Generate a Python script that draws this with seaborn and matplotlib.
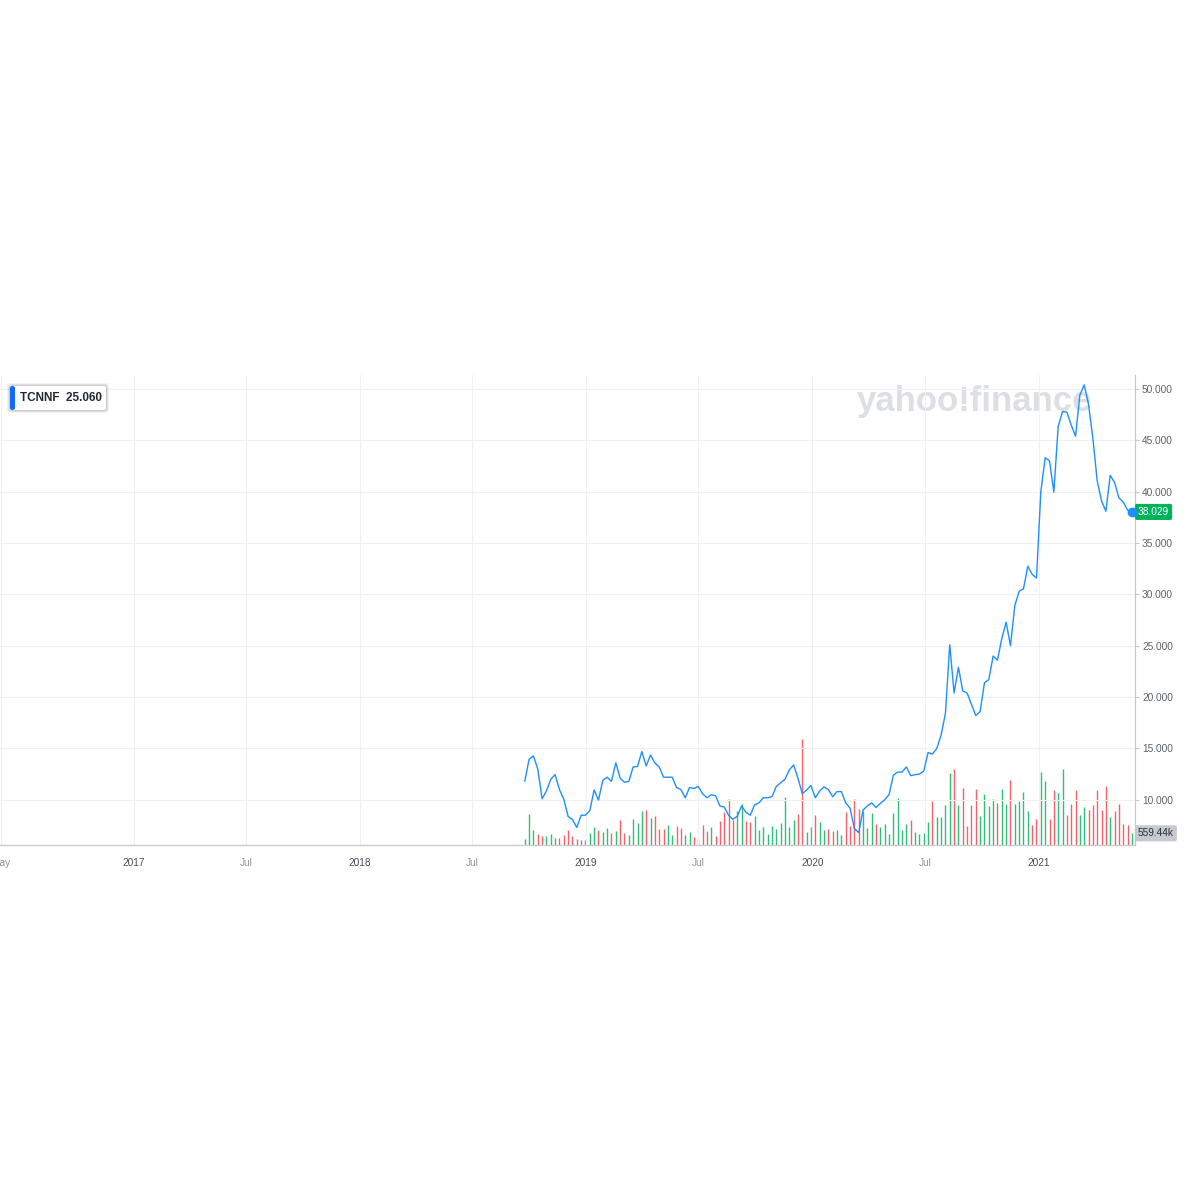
"""
TCNNF weekly price with volume, drawn in the style of a Yahoo Finance chart.
"""

import matplotlib.pyplot as plt
import matplotlib.transforms as mtransforms
from matplotlib.patches import FancyBboxPatch
import pandas as pd
import seaborn as sns


# Weekly closes (first week 2018-09-24)
start_week = "2018-09-24"
prices = [
    11.8, 13.95, 14.27, 13.0, 10.1, 10.86, 12.0, 12.45, 11.0, 10.06,
    8.38, 8.09, 7.3, 8.5, 8.5, 8.95, 10.96, 9.97, 11.9, 12.2,
    11.8, 13.6, 12.1, 11.7, 11.8, 13.2, 13.25, 14.7, 13.3, 14.36,
    13.6, 13.2, 12.2, 12.2, 12.2, 11.2, 11.0, 10.2, 11.2, 11.1,
    11.3, 10.6, 10.2, 10.5, 10.4, 9.4, 9.3, 8.5, 8.1, 8.4,
    9.4, 8.8, 8.5, 9.5, 9.7, 10.2, 10.2, 10.3, 11.3, 11.65,
    12.0, 12.9, 13.4, 12.1, 10.6, 10.95, 11.4, 10.2, 10.86, 11.25,
    11.0, 10.3, 10.8, 10.8, 9.7, 9.2, 7.2, 6.8, 9.0, 9.4,
    9.7, 9.25, 9.65, 10.0, 10.5, 12.4, 12.7, 12.7, 13.2, 12.35,
    12.45, 12.5, 12.8, 14.6, 14.45, 15.0, 16.3, 18.4, 25.1, 20.4,
    22.9, 20.6, 20.4, 19.3, 18.2, 18.6, 21.4, 21.7, 24.0, 23.6,
    25.7, 27.3, 25.0, 28.9, 30.3, 30.55, 32.75, 31.95, 31.6, 40.0,
    43.3, 43.0, 39.95, 46.35, 47.8, 47.75, 46.5, 45.4, 49.4, 50.4,
    48.5, 45.2, 41.05, 39.1, 38.1, 41.6, 40.9, 39.4, 39.0, 38.2,
    38.029,
]

# Weekly volume in thousands, and up (g) / down (r) week
volume = [
    287, 1481, 717, 510, 430, 430, 510, 350, 350, 478,
    717, 430, 287, 239, 239, 558, 844, 717, 605, 796,
    558, 669, 1195, 558, 478, 1243, 1067, 1625, 1673, 1274,
    1386, 765, 749, 956, 478, 908, 828, 478, 605, 366,
    271, 956, 685, 860, 430, 1147, 1593, 2198, 1195, 1625,
    1959, 1147, 1083, 1386, 717, 876, 526, 908, 781, 1051,
    2278, 876, 1195, 1481, 5066, 637, 876, 1434, 1099, 717,
    765, 685, 733, 478, 1593, 908, 2198, 1720, 1625, 828,
    1545, 988, 876, 988, 526, 1513, 2246, 717, 1004, 1195,
    637, 526, 573, 1099, 2103, 1338, 1338, 1912, 3457, 3632,
    1912, 2724, 908, 1912, 2676, 1386, 2437, 1864, 2198, 2023,
    2676, 1959, 3106, 1959, 2103, 2533, 1641, 956, 1243, 3505,
    3059, 1243, 2628, 2501, 3632, 1434, 1959, 2628, 1434, 1800,
    1673, 1912, 2628, 1673, 2820, 1354, 1625, 1959, 1004, 956,
    559.44,
]
direction = list(
    "gggrrgggrr" "rrrgrggrgg" "rgrrggggrg" "rrrggrrggr" "grrgrrrrrg"
    "grrggggggg" "gggrrggrgg" "rrg" "grrrrgg" "grgggggggr"
    "ggggrggggr" "grrrrggggr" "ggrggggrrg" "grrggrrrgg" "rrrrrgrrrr" "g"
)

tick_dates = ["2016-05-31", "2017-01-01", "2017-07-01", "2018-01-01", "2018-07-01",
              "2019-01-01", "2019-07-01", "2020-01-01", "2020-07-01", "2021-01-01"]
tick_labels = ["May", "2017", "Jul", "2018", "Jul", "2019", "Jul", "2020", "Jul", "2021"]
price_ticks = [10, 15, 20, 25, 30, 35, 40, 45, 50]

symbol = "TCNNF"
symbol_price = "25.060"
last_volume_label = "559.44k"

BLUE = "#1e8fff"
GREEN = "#2fbf78"
RED = "#f6626a"


def main():
    sns.set_theme(style="white")
    plt.rcParams["font.family"] = ["Liberation Sans", "DejaVu Sans"]

    dates = pd.date_range(start_week, periods=len(prices), freq="7D")
    df = pd.DataFrame({"date": dates, "close": prices, "volume": volume,
                       "dir": direction})

    W, H = 1190, 1190
    fig = plt.figure(figsize=(W / 100, H / 100), dpi=100)
    fig.patch.set_facecolor("white")
    left, right, top, bottom = 0, 1135, 375, 845
    rect = [left / W, 1 - bottom / H, (right - left) / W, (bottom - top) / H]
    ax = fig.add_axes(rect)
    axv = ax.twinx()

    # Volume bars underneath the price line
    colors = [GREEN if d == "g" else RED for d in df["dir"]]
    axv.vlines(df["date"], 0, df["volume"], colors=colors, linewidth=1.0)
    axv.set_ylim(0, 22470)
    axv.set_yticks([])
    for s in axv.spines.values():
        s.set_visible(False)

    ax.set_zorder(2)
    axv.set_zorder(1)
    ax.patch.set_visible(False)

    # Price line
    sns.lineplot(data=df, x="date", y="close", ax=ax, color=BLUE, linewidth=1.0)
    ax.scatter([df["date"].iloc[-1]], [df["close"].iloc[-1]], s=36, color=BLUE,
               zorder=5, clip_on=False)

    ax.set_xlim(pd.Timestamp("2016-05-30"), pd.Timestamp("2021-06-05"))
    ax.set_ylim(5.6, 51.36)

    ax.set_xticks(pd.to_datetime(tick_dates))
    ax.set_xticklabels(tick_labels)
    for lab, txt in zip(ax.get_xticklabels(), tick_labels):
        lab.set_color("#8d949b" if txt in ("May", "Jul") else "#464e56")
    ax.tick_params(axis="x", length=4, width=0.8, color="#c8c8c8",
                   labelsize=7.3, pad=5)

    ax.yaxis.tick_right()
    ax.set_yticks(price_ticks)
    ax.set_yticklabels([f"{v:.3f}" for v in price_ticks])
    ax.tick_params(axis="y", length=3, width=0.8, color="#c8c8c8",
                   labelsize=7.3, labelcolor="#5b636a", pad=2)
    ax.set_xlabel("")
    ax.set_ylabel("")

    ax.grid(True, color="#f0f0f0", linewidth=0.8)
    ax.set_axisbelow(True)
    for name, s in ax.spines.items():
        s.set_visible(name in ("right", "bottom"))
        s.set_color("#c8c8c8")
        s.set_linewidth(0.9)

    # Last price / volume labels on the right axis
    trans = mtransforms.blended_transform_factory(ax.transAxes, ax.transData)
    ax.annotate(f"{prices[-1]:.3f}", xy=(1.0, prices[-1]), xycoords=trans,
                xytext=(3, 0), textcoords="offset pixels", ha="left", va="center",
                fontsize=7.3, color="white", annotation_clip=False,
                bbox=dict(boxstyle="round,pad=0.3,rounding_size=0.2",
                          fc="#00b15d", ec="none"))
    transv = mtransforms.blended_transform_factory(axv.transAxes, axv.transData)
    axv.annotate(last_volume_label, xy=(1.0, volume[-1]), xycoords=transv,
                 xytext=(3, 0), textcoords="offset pixels", ha="left", va="center",
                 fontsize=7.3, color="#2b3137", annotation_clip=False,
                 bbox=dict(boxstyle="round,pad=0.3,rounding_size=0.2",
                           fc="#c6cad0", ec="none"))

    # Watermark
    fig.text(975 / W, 1 - 401 / H, "yahoo!finance", ha="center", va="center",
             fontsize=25, fontweight="heavy", color="#dcdfe4", zorder=0.5)

    # Symbol tag at top left
    for i, a in enumerate([0.05, 0.07, 0.09]):
        g = 3 - i
        fig.patches.append(FancyBboxPatch(
            ((10 - g) / W, 1 - (410 + g) / H), (96 + 2 * g) / W, (24 + 2 * g) / H,
            boxstyle="round,pad=0,rounding_size=0.003", transform=fig.transFigure,
            fc="#000000", ec="none", alpha=a, zorder=3))
    fig.patches.append(FancyBboxPatch(
        (10 / W, 1 - 410 / H), 96 / W, 24 / H,
        boxstyle="round,pad=0,rounding_size=0.002", transform=fig.transFigure,
        fc="white", ec="none", zorder=4))
    fig.patches.append(FancyBboxPatch(
        (10 / W, 1 - 410 / H), 5 / W, 24 / H,
        boxstyle="round,pad=0,rounding_size=0.002", transform=fig.transFigure,
        fc="#0f69ff", ec="none", zorder=5))
    fig.text(20 / W, 1 - 398.5 / H, f"{symbol}  {symbol_price}", ha="left",
             va="center", fontsize=8.5, fontweight="bold", color="#232a31",
             zorder=6)

    fig.savefig("out.png", dpi=100, facecolor="white")


if __name__ == "__main__":
    main()
